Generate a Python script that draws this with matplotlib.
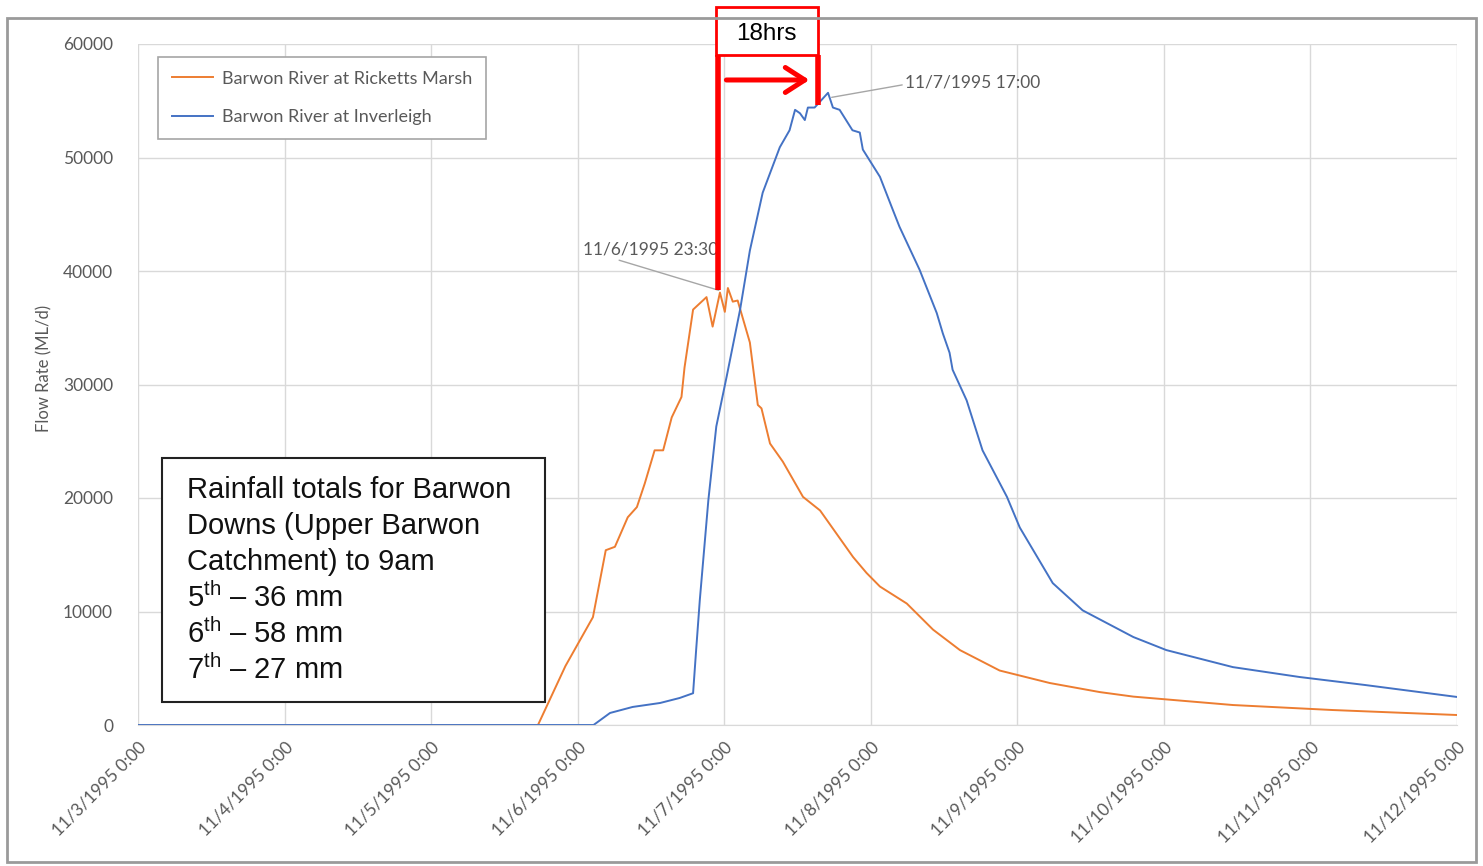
import numpy as np
import pandas as pd
import matplotlib.pyplot as plt
import matplotlib.dates as mdates
from matplotlib.patches import Rectangle, FancyArrowPatch

plt.rcParams['font.family'] = ['Lato', 'DejaVu Sans']
plt.rcParams['mathtext.fontset'] = 'custom'
plt.rcParams['mathtext.rm'] = 'Liberation Sans'

# Flow data (hours since 11/3/1995 0:00, ML/d)
start = pd.Timestamp('1995-11-03 00:00')
ricketts_hours = [0, 65.5, 70.0, 74.5, 76.6, 78.1, 80.2, 81.7, 83.0, 84.6, 86.0, 87.4,
                  89.0, 89.5, 90.9, 93.1, 94.1, 95.3, 96.1, 96.6, 97.4, 98.2, 100.2,
                  101.5, 102.1, 103.5, 105.6, 108.9, 111.7, 117.1, 119.3, 121.5, 125.9,
                  130.2, 134.6, 141.1, 149.3, 157.5, 163.0, 179.3, 195.6, 216.0]
ricketts_flow = [0, 0, 5200, 9500, 15400, 15700, 18300, 19200, 21300, 24200, 24200, 27100,
                 28900, 31500, 36600, 37700, 35100, 38100, 36400, 38500, 37300, 37400, 33700,
                 28200, 27900, 24800, 23200, 20100, 18900, 14800, 13400, 12200, 10700,
                 8400, 6600, 4800, 3700, 2900, 2500, 1760, 1320, 880]

inverleigh_hours = [0, 74.6, 77.3, 81.0, 85.5, 88.7, 90.9, 91.4, 92.0, 93.4, 94.7, 96.4,
                    98.6, 100.2, 102.3, 105.1, 106.7, 107.6, 108.4, 109.2, 109.7, 110.8,
                    113.0, 113.8, 114.9, 117.0, 118.2, 118.7, 121.5, 123.6, 124.7, 128.0,
                    130.8, 131.8, 132.9, 133.4, 135.7, 138.3, 142.3, 144.4, 149.8, 154.7,
                    163.0, 168.4, 179.3, 190.2, 201.0, 216.0]
inverleigh_flow = [0, 0, 1060, 1590, 1940, 2380, 2800, 6600, 11000, 19800, 26300, 30700,
                   36600, 41800, 46900, 50900, 52400, 54200, 53900, 53300, 54400, 54400,
                   55700, 54400, 54200, 52400, 52200, 50700, 48300, 45400, 43900, 40100,
                   36300, 34500, 32800, 31300, 28600, 24200, 20100, 17400, 12500, 10100,
                   7750, 6600, 5100, 4230, 3520, 2470]

ricketts_t = start + pd.to_timedelta(ricketts_hours, unit='h')
inverleigh_t = start + pd.to_timedelta(inverleigh_hours, unit='h')

day_ticks = pd.date_range('1995-11-03', '1995-11-12', freq='D')
day_labels = [f"{d.month}/{d.day}/{d.year} 0:00" for d in day_ticks]
y_ticks = [0, 10000, 20000, 30000, 40000, 50000, 60000]

rain_lines = ["Rainfall totals for Barwon", "Downs (Upper Barwon",
              "Catchment) to 9am", r"5$^{\rm th}$ – 36 mm",
              r"6$^{\rm th}$ – 58 mm", r"7$^{\rm th}$ – 27 mm"]

def t(h):
    return mdates.date2num(start + pd.Timedelta(hours=h))

W, H = 1483, 866
fig = plt.figure(figsize=(W / 100, H / 100), dpi=100)
ax = fig.add_axes([138 / W, 1 - 725 / H, 1319 / W, 681 / H])

# outer chart frame
fig.patches.append(Rectangle((7 / W, 1 - 862 / H), 1469 / W, 844 / H, transform=fig.transFigure,
                             fill=False, edgecolor='#9a9a9a', lw=2))

ax.plot(ricketts_t, ricketts_flow, color='#ED7D31', lw=1.4, label='Barwon River at Ricketts Marsh')
ax.plot(inverleigh_t, inverleigh_flow, color='#4472C4', lw=1.4, label='Barwon River at Inverleigh')

ax.set_xlim(day_ticks[0], day_ticks[-1])
ax.set_ylim(0, 60000)
ax.set_xticks(day_ticks)
ax.set_xticklabels(day_labels, rotation=45, ha='right', rotation_mode='anchor')
ax.set_yticks(y_ticks)
ax.set_yticklabels([str(v) for v in y_ticks])
ax.tick_params(length=0, labelsize=12.5, labelcolor='#595959')
ax.tick_params(axis='x', pad=10)
ax.tick_params(axis='y', pad=18)
ax.grid(True, color='#d9d9d9', lw=1)
ax.set_axisbelow(True)
for s in ['top', 'right', 'left']:
    ax.spines[s].set_visible(False)
ax.spines['bottom'].set_color('#d9d9d9')

ax.set_ylabel('Flow Rate (ML/d)', fontsize=12, color='#595959')
ax.yaxis.set_label_coords(-86 / 1319, (725 - 368) / 681)

leg = ax.legend(loc='upper left', bbox_to_anchor=(20 / 1319, (725 - 57) / 681), borderaxespad=0,
                fontsize=13, labelcolor='#595959', handlelength=2.3, handletextpad=0.5,
                labelspacing=1.25, borderpad=0.75, fancybox=False, edgecolor='#a6a6a6',
                framealpha=1)
leg.get_frame().set_linewidth(1.2)

# peak labels
ax.annotate('11/6/1995 23:30', xy=(t(95.1), 38300), xytext=(t(95.0), 41900),
            ha='right', va='center', fontsize=12.5, color='#595959',
            arrowprops=dict(arrowstyle='-', color='#a6a6a6', lw=1, relpos=(0.2, 0.0),
                            shrinkA=0, shrinkB=0))
ax.annotate('11/7/1995 17:00', xy=(t(113.6), 55300), xytext=(t(125.6), 56650),
            ha='left', va='center', fontsize=12.5, color='#595959',
            arrowprops=dict(arrowstyle='-', color='#a6a6a6', lw=1, relpos=(0.0, 0.35),
                            shrinkA=0, shrinkB=0))

# 18 hour lag marker
red = '#FF0000'
ax.add_patch(Rectangle((t(94.6), 59030), t(111.3) - t(94.6), 4230, facecolor='white',
                       edgecolor=red, lw=2, clip_on=False, zorder=6))
ax.text((t(94.6) + t(111.3)) / 2, 60900, '18hrs', ha='center', va='center', fontsize=17.5,
        family='Liberation Sans', color='black', zorder=7, clip_on=False)
ax.plot([t(94.95), t(94.95)], [38330, 59030], color=red, lw=4, zorder=6, solid_capstyle='butt')
ax.plot([t(111.3), t(111.3)], [54630, 59030], color=red, lw=4, zorder=6, solid_capstyle='butt')
ax.add_patch(FancyArrowPatch((t(95.9), 56830), (t(110.4), 56830),
                             arrowstyle='->,head_length=0.7,head_width=0.45',
                             color=red, lw=3.6, mutation_scale=20, zorder=6))

# rainfall text box
fig.patches.append(Rectangle((162 / W, 1 - 702 / H), 383 / W, 244 / H, transform=fig.transFigure,
                             facecolor='white', edgecolor='#222222', lw=1.5, zorder=5))
for i, line in enumerate(rain_lines):
    fig.text(187 / W, 1 - (490 + 36 * i) / H, line, ha='left', va='center', fontsize=21,
             family='Liberation Sans', color='#111111', zorder=6)

fig.savefig('out.png', dpi=100)
